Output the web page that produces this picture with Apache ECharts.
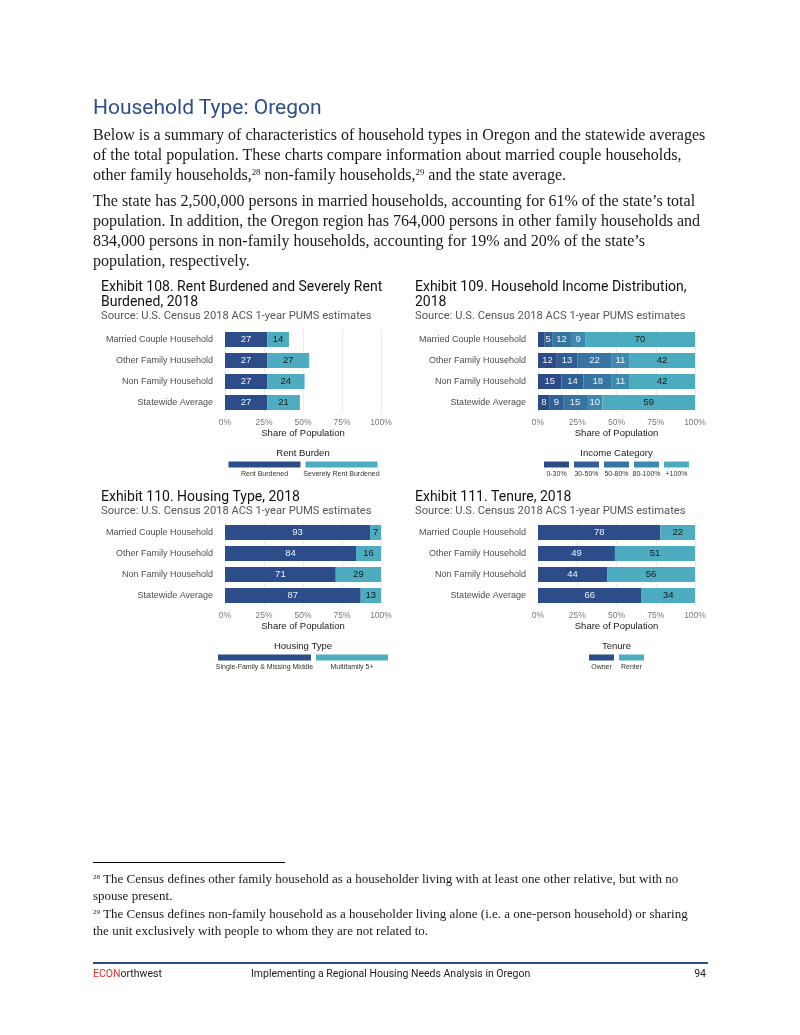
<!DOCTYPE html>
<html>
<head>
<meta charset="utf-8">
<script src="https://cdn.jsdelivr.net/npm/echarts@6/dist/echarts.min.js"></script>
<style>
  html, body { margin:0; padding:0; background:#fff; }
  #page { position:relative; width:800px; height:1035px; overflow:hidden; }
  #chart { position:absolute; left:0; top:0; width:800px; height:1035px; }
  .t { position:absolute; white-space:nowrap; }
  .h1 { left:93px; top:94px; font-family:"Roboto", "Liberation Sans", sans-serif; font-size:21px; line-height:26px; color:#2F4E8C; }
  .body { left:93px; font-family:"Liberation Serif", serif; font-size:16px; line-height:20px; color:#1a1a1a; }
  .fn { left:93px; font-family:"Liberation Serif", serif; font-size:13px; line-height:16.5px; color:#1a1a1a; }
  sup { font-size:0.55em; vertical-align:0.6em; line-height:0; }
  .foot { top:966px; font-family:"Roboto", "Liberation Sans", sans-serif; font-size:10.5px; line-height:16px; color:#222; }
</style>
</head>
<body>
<div id="page">
  <div id="chart"></div>
  <div class="t h1">Household Type: Oregon</div>
  <div class="t body" style="top:125px">Below is a summary of characteristics of household types in Oregon and the statewide averages<br>of the total population. These charts compare information about married couple households,<br>other family households,<sup>28</sup> non-family households,<sup>29</sup> and the state average.</div>
  <div class="t body" style="top:191px">The state has 2,500,000 persons in married households, accounting for 61% of the state’s total<br>population. In addition, the Oregon region has 764,000 persons in other family households and<br>834,000 persons in non-family households, accounting for 19% and 20% of the state’s<br>population, respectively.</div>
  <div style="position:absolute;left:93px;top:862px;width:192px;height:1px;background:#000"></div>
  <div class="t fn" style="top:871px"><sup>28</sup> The Census defines other family household as a householder living with at least one other relative, but with no<br>spouse present.</div>
  <div class="t fn" style="top:906px"><sup>29</sup> The Census defines non-family household as a householder living alone (i.e. a one-person household) or sharing<br>the unit exclusively with people to whom they are not related to.</div>
  <div style="position:absolute;left:93px;top:962px;width:615px;height:2px;background:#2F4E8C"></div>
  <div class="t foot" style="left:93px"><span style="color:#E0302A">ECON</span>orthwest</div>
  <div class="t foot" style="left:251px">Implementing a Regional Housing Needs Analysis in Oregon</div>
  <div class="t foot" style="right:94px">94</div>
</div>
<script>
// ---------- data ----------
const categories = ['Married Couple Household', 'Other Family Household', 'Non Family Household', 'Statewide Average'];
const axisTicks = [0, 25, 50, 75, 100];

const rentNames = ['Rent Burdened', 'Severely Rent Burdened'];
const rentBurdened = [27, 27, 27, 27];
const severelyRentBurdened = [14, 27, 24, 21];

const incomeNames = ['0-30%', '30-50%', '50-80%', '80-100%', '+100%'];
const income0to30 = [4, 12, 15, 7.5];
const income30to50 = [5, 13, 14, 8.5];
const income50to80 = [12, 22, 18, 15.2];
const income80to100 = [9, 11, 11, 9.8];
const income100plus = [70, 42, 42, 59];

const housingNames = ['Single-Family & Missing Middle', 'Multifamily 5+'];
const singleFamily = [93, 84, 71, 87];
const multifamily = [7, 16, 29, 13];

const tenureNames = ['Owner', 'Renter'];
const owner = [78, 49, 44, 66];
const renter = [22, 51, 56, 34];

// ---------- styling ----------
const DARK = '#2C4D89', LIGHT = '#4DACBF';
const incomeColors = ['#2B4A86', '#2F5F93', '#3774A2', '#3E8AAF', '#4BABBF'];
const SANS = '"Liberation Sans", Arial, sans-serif';
const TSANS = 'Roboto, "Liberation Sans", sans-serif';

const panels = [
  { left: 225, top: 329, width: 156 },
  { left: 538, top: 329, width: 157 },
  { left: 225, top: 522, width: 156 },
  { left: 538, top: 522, width: 157 }
];
const PANEL_H = 84;

const chart = echarts.init(document.getElementById('chart'), null, { renderer: 'canvas' });

const grids = [], xAxes = [], yAxes = [], series = [], graphics = [];

panels.forEach((p, i) => {
  grids.push({ left: p.left, top: p.top, width: p.width, height: PANEL_H, containLabel: false });
  xAxes.push({
    type: 'value', gridIndex: i, min: axisTicks[0], max: axisTicks[axisTicks.length - 1], interval: 25,
    axisLine: { show: false }, axisTick: { show: false },
    splitLine: { show: true, lineStyle: { color: '#ebebeb', width: 1 } },
    axisLabel: { formatter: '{value}%', fontFamily: SANS, fontSize: 8.5, color: '#7a7a7a', margin: 5 },
    name: 'Share of Population', nameLocation: 'middle', nameGap: 15,
    nameTextStyle: { fontFamily: SANS, fontSize: 9.5, color: '#1a1a1a' }
  });
  yAxes.push({
    type: 'category', gridIndex: i, data: categories, inverse: true,
    axisLine: { show: false }, axisTick: { show: false }, splitLine: { show: false },
    axisLabel: { fontFamily: SANS, fontSize: 9, color: '#4d4d4d', margin: 12 }
  });
});

function addStack(gridIdx, names, dataArrays, colors, labelColors) {
  names.forEach((n, k) => {
    series.push({
      type: 'bar', name: n, xAxisIndex: gridIdx, yAxisIndex: gridIdx, stack: 's' + gridIdx,
      data: dataArrays[k], barWidth: 15,
      itemStyle: { color: colors[k] },
      label: {
        show: true, position: 'inside', fontFamily: SANS, fontSize: 9.5, color: labelColors[k],
        formatter: p => (p.value < 5 ? '' : String(Math.round(p.value)))
      },
      emphasis: { disabled: true },
      silent: true
    });
  });
}

addStack(0, rentNames, [rentBurdened, severelyRentBurdened], [DARK, LIGHT], ['#eef0f6', '#1a1a1a']);
addStack(1, incomeNames, [income0to30, income30to50, income50to80, income80to100, income100plus], incomeColors,
  ['#eef0f6', '#eef0f6', '#eef0f6', '#eef0f6', '#1a1a1a']);
addStack(2, housingNames, [singleFamily, multifamily], [DARK, LIGHT], ['#eef0f6', '#1a1a1a']);
addStack(3, tenureNames, [owner, renter], [DARK, LIGHT], ['#eef0f6', '#1a1a1a']);

// legends (keys under each panel, label below key)
function legend(panel, title, names, colors, keyWidths) {
  const cx = panel.left + panel.width / 2;
  const ty = panel.top + PANEL_H + 40;
  const gap = 5;
  const total = keyWidths.reduce((a, b) => a + b, 0) + gap * (names.length - 1);
  let x = cx - total / 2;
  graphics.push({ type: 'text', x: cx, y: ty, style: { text: title, textAlign: 'center', textVerticalAlign: 'middle', align: 'center', verticalAlign: 'middle', fontFamily: SANS, fontSize: 9.5, fill: '#1a1a1a' } });
  names.forEach((n, i) => {
    graphics.push({ type: 'rect', shape: { x: x, y: ty + 8.5, width: keyWidths[i], height: 6 }, style: { fill: colors[i] } });
    graphics.push({ type: 'text', x: x + keyWidths[i] / 2, y: ty + 21.5, style: { text: n, textAlign: 'center', textVerticalAlign: 'middle', align: 'center', verticalAlign: 'middle', fontFamily: SANS, fontSize: 7, fill: '#333' } });
    x += keyWidths[i] + gap;
  });
}
legend(panels[0], 'Rent Burden', rentNames, [DARK, LIGHT], [72, 72]);
legend(panels[1], 'Income Category', incomeNames, incomeColors, [25, 25, 25, 25, 25]);
legend(panels[2], 'Housing Type', housingNames, [DARK, LIGHT], [93, 72]);
legend(panels[3], 'Tenure', tenureNames, [DARK, LIGHT], [25, 25]);

const SOURCE = 'Source: U.S. Census 2018 ACS 1-year PUMS estimates';
function mkTitle(text, left, top) {
  return {
    text: text, subtext: SOURCE, left: left, top: top, padding: 0, itemGap: 0.5,
    textStyle: { fontFamily: TSANS, fontSize: 14, fontWeight: 'normal', color: '#111', lineHeight: 15 },
    subtextStyle: { fontFamily: TSANS, fontSize: 11.2, color: '#555', lineHeight: 13 }
  };
}

chart.setOption({
  animation: false,
  backgroundColor: 'transparent',
  title: [
    mkTitle('Exhibit 108. Rent Burdened and Severely Rent\nBurdened, 2018', 101, 279.5),
    mkTitle('Exhibit 109. Household Income Distribution,\n2018', 415, 279.5),
    mkTitle('Exhibit 110. Housing Type, 2018', 101, 489.5),
    mkTitle('Exhibit 111. Tenure, 2018', 415, 489.5)
  ],
  grid: grids, xAxis: xAxes, yAxis: yAxes, series: series,
  graphic: graphics
});
</script>
</body>
</html>
